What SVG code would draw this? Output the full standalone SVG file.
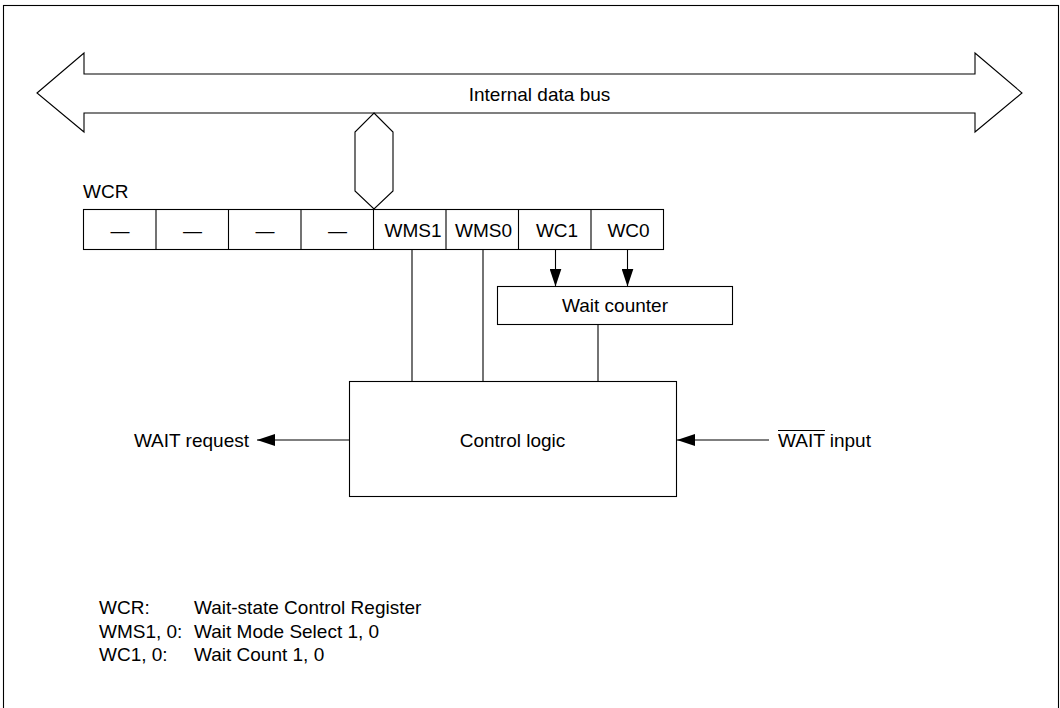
<svg xmlns="http://www.w3.org/2000/svg" width="1060" height="708" viewBox="0 0 1060 708">
<style>
.ln{fill:none;stroke:#000;stroke-width:1.1}
.bx{fill:#fff;stroke:#000;stroke-width:1.1}
text{font-family:"Liberation Sans",Arial,Helvetica,sans-serif;font-size:19px;fill:#000}
.c{text-anchor:middle}
.e{text-anchor:end}
</style>
<defs>
<marker id="ah" markerUnits="userSpaceOnUse" markerWidth="18" markerHeight="12" refX="18" refY="6" orient="auto">
<path d="M0,0 L18,6 L0,12 z" fill="#000"/>
</marker>
</defs>
<rect x="0" y="0" width="1060" height="708" fill="#fff"/>
<rect x="3.5" y="5.5" width="1055" height="720" class="ln"/>

<g id="bus">
<polygon class="bx" points="37,93 84,53 84,74 975,74 975,53 1022,93 975,132 975,113 84,113 84,132"/>
<text class="c" x="539.5" y="101">Internal data bus</text>
</g>

<g id="bus-tap">
<polygon class="bx" points="374,113 393,132 393,191 374,209 355,191 355,132"/>
</g>

<g id="wcr">
<text x="83" y="198">WCR</text>
<rect class="bx" x="83.5" y="209.5" width="580" height="40"/>
<path class="ln" d="M156,209.5V249.5M228.5,209.5V249.5M301,209.5V249.5M373.5,209.5V249.5M446,209.5V249.5M518.5,209.5V249.5M591,209.5V249.5"/>
<text class="c" x="120" y="237">—</text>
<text class="c" x="192.5" y="237">—</text>
<text class="c" x="265" y="237">—</text>
<text class="c" x="337.5" y="237">—</text>
<text class="c" x="413" y="237">WMS1</text>
<text class="c" x="483.5" y="237">WMS0</text>
<text class="c" x="557" y="237">WC1</text>
<text class="c" x="628.5" y="237">WC0</text>
</g>

<g id="wait-counter">
<rect class="bx" x="497.5" y="286.5" width="235" height="38"/>
<text class="c" x="615" y="311.5">Wait counter</text>
</g>

<g id="control-logic">
<rect class="bx" x="349.5" y="381.5" width="327" height="115"/>
<text class="c" x="512.5" y="446.5">Control logic</text>
</g>

<g id="wait-request">
<text class="e" x="249" y="446.5">WAIT request</text>
</g>

<g id="wait-input">
<text x="778" y="446.5">WAIT input</text>
<line class="ln" x1="778" y1="430.5" x2="825" y2="430.5"/>
</g>

<g id="connectors">
<line class="ln" x1="412" y1="249.5" x2="412" y2="381.5"/>
<line class="ln" x1="483" y1="249.5" x2="483" y2="381.5"/>
<line class="ln" x1="598" y1="324.5" x2="598" y2="381.5"/>
<line class="ln" x1="555.5" y1="249.5" x2="555.5" y2="286.5" marker-end="url(#ah)"/>
<line class="ln" x1="627.5" y1="249.5" x2="627.5" y2="286.5" marker-end="url(#ah)"/>
<line class="ln" x1="349.5" y1="440" x2="257" y2="440" marker-end="url(#ah)"/>
<line class="ln" x1="769" y1="440" x2="677" y2="440" marker-end="url(#ah)"/>
</g>

<g id="legend">
<text x="99" y="614">WCR:</text>
<text x="194" y="614">Wait-state Control Register</text>
<text x="99" y="637.5">WMS1, 0:</text>
<text x="194" y="637.5">Wait Mode Select 1, 0</text>
<text x="99" y="661">WC1, 0:</text>
<text x="194" y="661">Wait Count 1, 0</text>
</g>
</svg>
